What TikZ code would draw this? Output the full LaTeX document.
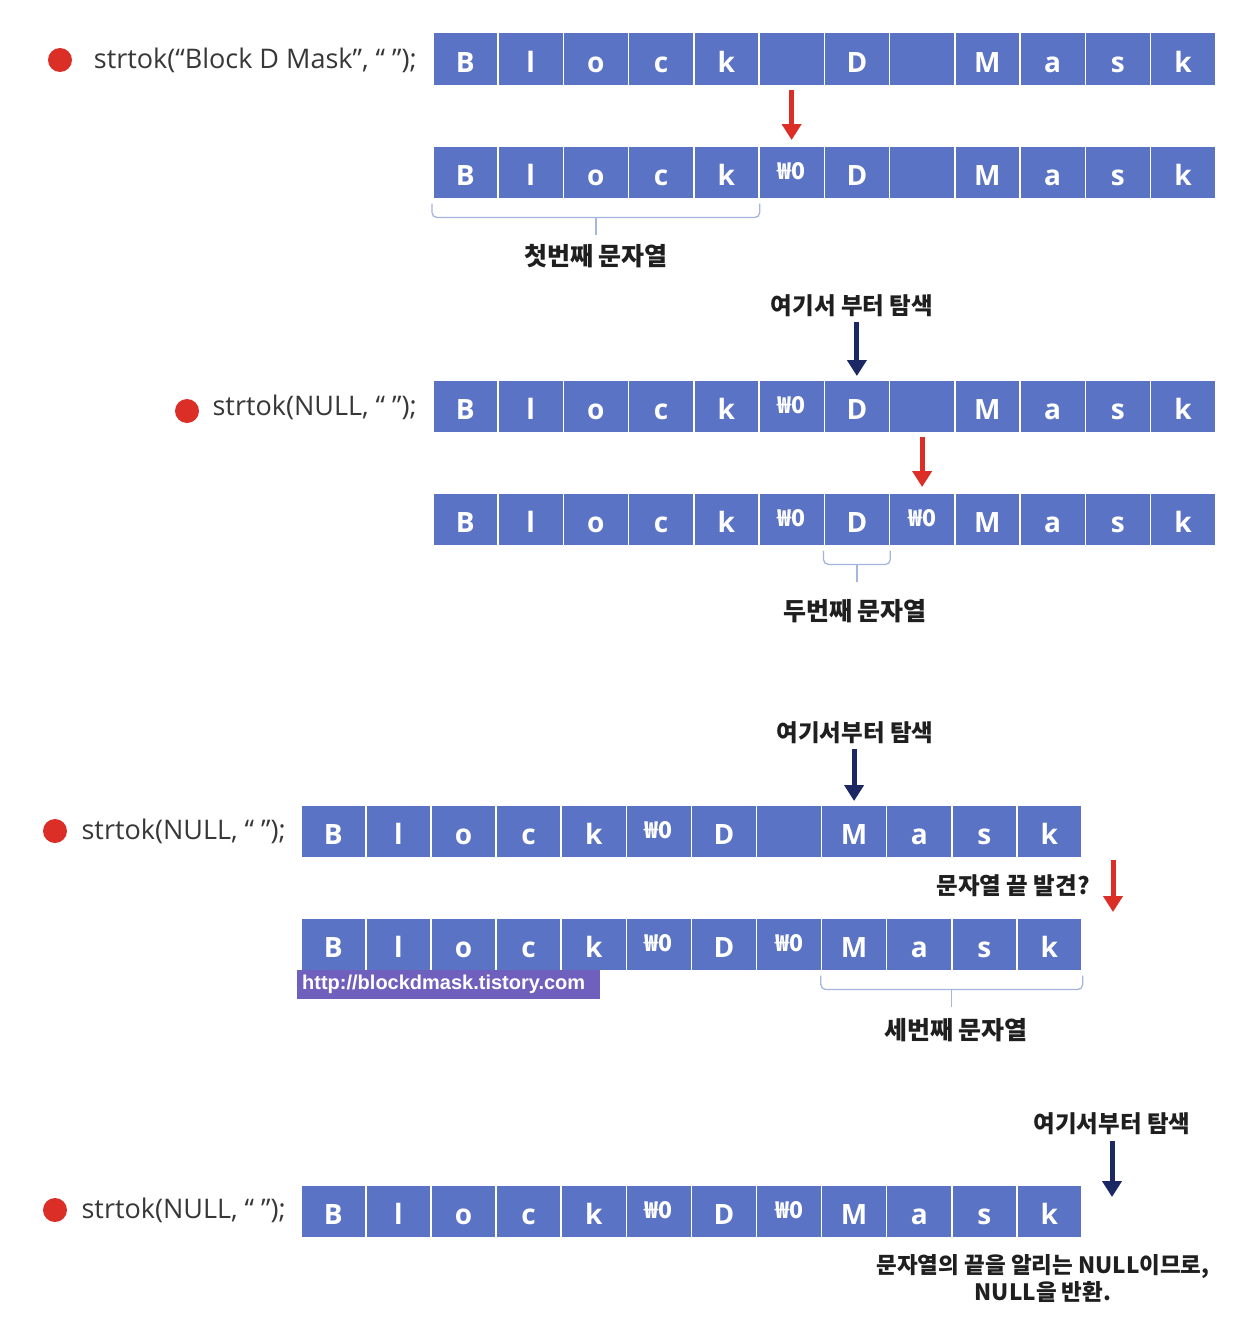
\documentclass[tikz,border=0pt]{standalone}
\usepackage{fontspec}
\setmainfont{Open Sans}
\newfontfamily\kr{Noto Sans CJK KR}
\newfontfamily\wm{Liberation Sans}
\usetikzlibrary{arrows.meta,calc}
\definecolor{cellblue}{RGB}{91,115,196}
\definecolor{redarr}{RGB}{218,46,38}
\definecolor{navy}{RGB}{28,40,100}
\definecolor{bracec}{RGB}{165,182,222}
\definecolor{wmpurple}{RGB}{112,96,190}
\definecolor{txtgray}{RGB}{55,55,55}
\newcommand\nulc{\raisebox{6pt}{\kr\fontsize{23}{23}\selectfont ₩0}}
\tikzset{
  cellbox/.style={draw=white, line width=1.5pt, fill=cellblue, minimum width=#1,
    minimum height=53pt, inner sep=0pt, text=white,
    font=\fontsize{28}{28}\selectfont\bfseries, text height=26pt, text depth=0pt,
    anchor=north west},
  reddot/.style={circle, fill=redarr, minimum size=24pt, inner sep=0pt},
  codelabel/.style={anchor=east, text=txtgray, font=\fontsize{27}{27}\selectfont, inner sep=0pt},
  krlabel/.style={text=black!88, font=\kr\bfseries\fontsize{25}{28}\selectfont, inner sep=0pt},
  krsmall/.style={text=black!88, font=\kr\bfseries\fontsize{23.5}{28}\selectfont, inner sep=0pt},
  krnote/.style={text=black!88, font=\kr\bfseries\fontsize{22.5}{27}\selectfont, inner sep=0pt},
  redarrow/.style={draw=redarr, line width=5pt, -{Triangle[width=19pt,length=16pt]}},
  bluearrow/.style={draw=navy, line width=5pt, -{Triangle[width=19pt,length=16pt]}},
  bracestyle/.style={draw=bracec, line width=1.3pt, rounded corners=5pt},
  wmbox/.style={fill=wmpurple, text=white, font=\wm\bfseries\fontsize{20}{22}\selectfont,
    minimum height=29pt, inner xsep=5pt, inner ysep=0pt, text width=293pt, align=left,
    anchor=north west}
}
\newcommand\cellrow[5]{\foreach \t [count=\i from 0] in {#5} {\node[cellbox=#4] (#1c\i) at ({#2+\i*#4},#3) {\t};}}
\newcommand\bracebelow[4]{%
  \draw[bracestyle] ([yshift=-4pt]#1.south west) -- ([yshift=-18pt]#1.south west)
     -- ([yshift=-18pt]#2.south east) -- ([yshift=-4pt]#2.south east);
  \coordinate (#3) at ($([yshift=-18pt]#1.south west)!0.5!([yshift=-18pt]#2.south east)$);
  \draw[draw=bracec, line width=1.3pt] (#3) -- ++(0,#4);}
\begin{document}
\begin{tikzpicture}[x=1pt,y=-1pt]
\fill[white] (0,0) rectangle (1249,1338);
\useasboundingbox (0,0) rectangle (1249,1338);

% rows
\cellrow{r1}{432}{32}{65.25}{B,l,o,c,k,{},D,{},M,a,s,k}
\cellrow{r2}{432}{145}{65.25}{B,l,o,c,k,\nulc,D,{},M,a,s,k}
\cellrow{r3}{432}{379}{65.25}{B,l,o,c,k,\nulc,D,{},M,a,s,k}
\cellrow{r4}{432}{492}{65.25}{B,l,o,c,k,\nulc,D,\nulc,M,a,s,k}
\cellrow{r5}{300}{804}{65.1}{B,l,o,c,k,\nulc,D,{},M,a,s,k}
\cellrow{r6}{300}{917}{65.1}{B,l,o,c,k,\nulc,D,\nulc,M,a,s,k}
\cellrow{r7}{300}{1184}{65.1}{B,l,o,c,k,\nulc,D,\nulc,M,a,s,k}

% bullets and code labels
\node[reddot] (d1) at (60,60) {};
\node[codelabel] (s1) at (417,60) {strtok(“Block D Mask”, “ ”);};
\node[reddot] (d2) at (187,411) {};
\node[codelabel] (s2) at (417,407) {strtok(NULL, “ ”);};
\node[reddot] (d3) at (55,831) {};
\node[codelabel] (s3) at (286,831) {strtok(NULL, “ ”);};
\node[reddot] (d4) at (55,1210) {};
\node[codelabel] (s4) at (286,1210) {strtok(NULL, “ ”);};

% step 1
\draw[redarrow, shorten <=3pt, shorten >=5pt] (r1c5.south) -- (r2c5.north);
\bracebelow{r2c0}{r2c4}{b1}{17}
\node[krlabel] (t1) at (596,256) {첫번째 문자열};

% step 2
\node[krsmall] (q1) at (852,306) {여기서 부터 탐색};
\draw[bluearrow, shorten <=5pt, shorten >=3pt] (q1.south -| r3c6.north) -- (r3c6.north);
\draw[redarrow, shorten <=3pt, shorten >=5pt] (r3c7.south) -- (r4c7.north);
\bracebelow{r4c6}{r4c6}{b2}{17}
\node[krlabel] (t2) at (855,611) {두번째 문자열};

% step 3
\node[krsmall] (q2) at (855,733) {여기서부터 탐색};
\draw[bluearrow, shorten <=5pt, shorten >=3pt] (q2.south -| r5c8.north) -- (r5c8.north);
\coordinate (a1) at (1113,860);
\coordinate (a2) at (1113,912);
\draw[redarrow] (a1) -- (a2);
\node[krsmall, anchor=east] (q3) at (1090,886) {문자열 끝 발견?};
\node[wmbox] (wm) at (297,970) {http://blockdmask.tistory.com};
\bracebelow{r6c8}{r6c11}{b3}{17}
\node[krlabel] (t3) at (956,1030) {세번째 문자열};

% step 4
\node[krsmall] (q4) at (1112,1124) {여기서부터 탐색};
\coordinate (c1) at (1112,1197);
\draw[bluearrow, shorten <=6pt] (q4.south) -- (c1);
\node[krnote, align=center] (t4) at (1043,1279) {문자열의 끝을 알리는 NULL이므로,\\NULL을 반환.};
\end{tikzpicture}
\end{document}
